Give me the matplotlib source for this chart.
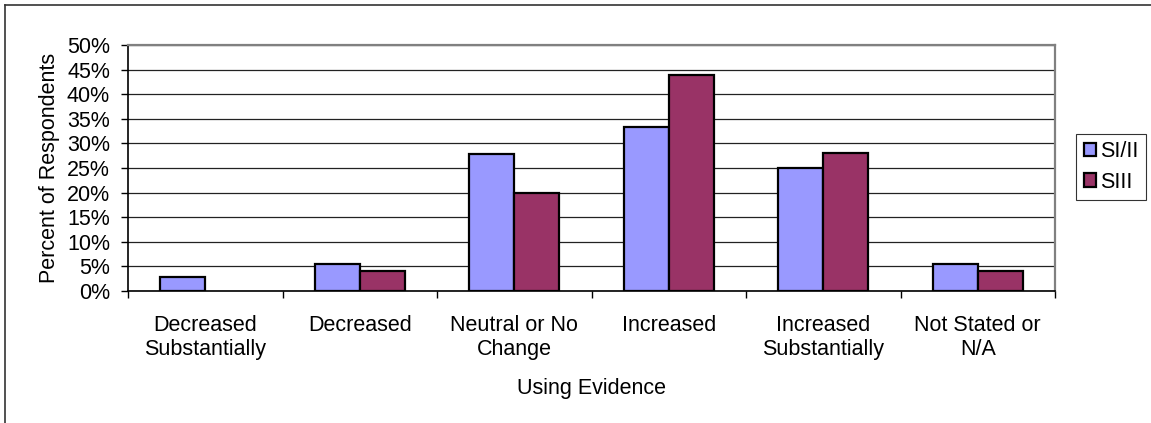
import numpy as np
import matplotlib
matplotlib.use('Agg')
import matplotlib.pyplot as plt
from matplotlib.lines import Line2D
from matplotlib.patches import Patch

plt.rcParams['font.family'] = ['Liberation Sans', 'DejaVu Sans']

categories = ['Decreased\nSubstantially', 'Decreased', 'Neutral or No\nChange',
              'Increased', 'Increased\nSubstantially', 'Not Stated or\nN/A']
si_ii = [2.78, 5.56, 27.78, 33.33, 25.0, 5.56]
siii = [0.0, 4.0, 20.0, 44.0, 28.0, 4.0]
series_names = ['SI/II', 'SIII']
colors = ['#9999FF', '#993366']
yticks = [0, 5, 10, 15, 20, 25, 30, 35, 40, 45, 50]

FS = 15.5
W, H = 1151, 423
fig = plt.figure(figsize=(W / 100, H / 100), dpi=100)
ax = fig.add_axes([128 / W, (H - 291) / H, (1055 - 128) / W, (291 - 45) / H])

x = np.arange(len(categories))
bw = 0.29
b1 = ax.bar(x - bw / 2, si_ii, bw, color=colors[0], edgecolor='black', linewidth=1.6,
            zorder=3)
b2 = ax.bar(x + bw / 2, siii, bw, color=colors[1], edgecolor='black', linewidth=1.6,
            zorder=3)
# empty bars are not drawn at all
for bars in (b1, b2):
    for r in bars:
        if r.get_height() == 0:
            r.set_visible(False)

ax.set_xlim(-0.5, len(categories) - 0.5)
ax.set_ylim(0, 50)
ax.set_yticks(yticks)
ax.set_yticklabels([f'{v}%' for v in yticks])
ax.yaxis.grid(True, color='#222222', linewidth=0.9, zorder=0)

# category boundary ticks, labels centred between them
ax.set_xticks(np.arange(len(categories) + 1) - 0.5)
ax.set_xticklabels([])
ax.set_xticks(x, minor=True)
ax.set_xticklabels(categories, minor=True, linespacing=1.2)
ax.tick_params(axis='x', which='minor', length=0, pad=17, labelsize=FS)
ax.tick_params(axis='x', which='major', length=5, width=1, direction='out')
ax.tick_params(axis='y', length=5, width=1, pad=8, labelsize=FS)

for s in ['top', 'right']:
    ax.spines[s].set_color('#808080')
    ax.spines[s].set_linewidth(1.6)
for s in ['left', 'bottom']:
    ax.spines[s].set_color('black')
    ax.spines[s].set_linewidth(1.2)

ax.set_xlabel('Using Evidence', fontsize=FS, labelpad=13)
ax.set_ylabel('Percent of Respondents', fontsize=FS, labelpad=5)

handles = [Patch(facecolor=c, edgecolor='black', linewidth=1.6) for c in colors]
leg = ax.legend(handles, series_names, loc='center left',
                bbox_to_anchor=(1076 / W, (H - 167) / H),
                bbox_transform=fig.transFigure, fontsize=FS, frameon=True,
                fancybox=False, edgecolor='black', handlelength=0.6,
                handleheight=0.6, handletextpad=0.15, borderpad=0.35,
                labelspacing=0.45, borderaxespad=0)
leg.get_frame().set_linewidth(0.8)

# outer chart border (top and left edges visible)
fig.add_artist(Line2D([5 / W, 1.0], [(H - 5) / H, (H - 5) / H],
                      transform=fig.transFigure, color='#333333', linewidth=1.2))
fig.add_artist(Line2D([5 / W, 5 / W], [0, (H - 5) / H],
                      transform=fig.transFigure, color='#333333', linewidth=1.2))

fig.savefig('out.png', dpi=100)
